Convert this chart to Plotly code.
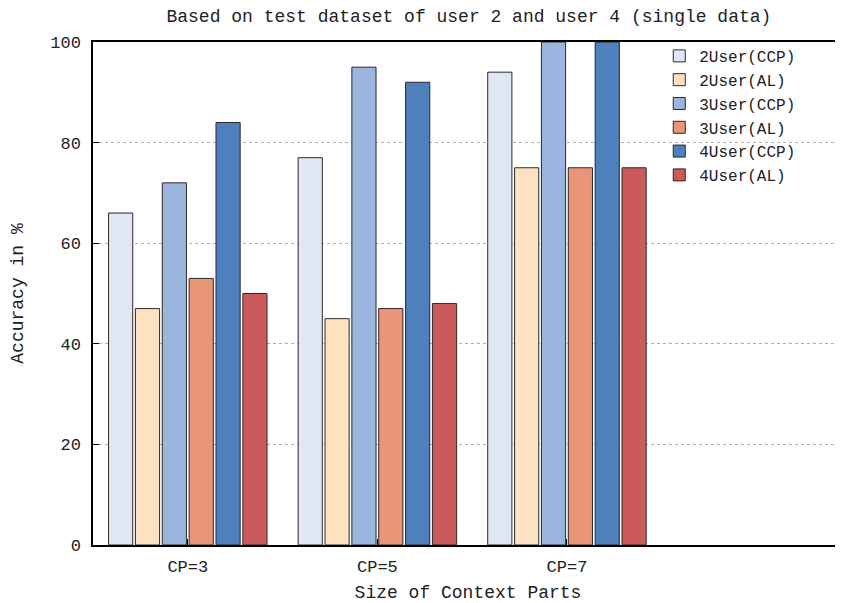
import plotly.graph_objects as go

categories = ["CP=3", "CP=5", "CP=7"]
series_names = ["2User(CCP)", "2User(AL)", "3User(CCP)", "3User(AL)", "4User(CCP)", "4User(AL)"]
user2_ccp = [66, 77, 94]
user2_al = [47, 45, 75]
user3_ccp = [72, 95, 100]
user3_al = [53, 47, 75]
user4_ccp = [84, 92, 100]
user4_al = [50, 48, 75]
y_ticks = [0, 20, 40, 60, 80, 100]

series_values = [user2_ccp, user2_al, user3_ccp, user3_al, user4_ccp, user4_al]
colors = ["#e0e6f4", "#fde2c1", "#9bb5de", "#e99577", "#4e80bd", "#cc5a5a"]

FONT = "Liberation Mono, Courier New, monospace"
x_pos = list(range(len(categories)))

fig = go.Figure()
for name, vals, col in zip(series_names, series_values, colors):
    fig.add_trace(go.Bar(
        x=x_pos, y=vals, name=name,
        marker=dict(color=col, line=dict(color="#2a2a2a", width=1)),
    ))

fig.update_layout(
    width=835, height=595,
    margin=dict(l=85, r=0, t=34, b=58, autoexpand=False),
    paper_bgcolor="white", plot_bgcolor="white",
    font=dict(family=FONT, size=17, color="#222"),
    barmode="group", bargap=0.15, bargroupgap=0.1,
    title=dict(text="Based on test dataset of user 2 and user 4 (single data)",
               x=0.552, xanchor="center", y=0.997, yanchor="top",
               font=dict(family=FONT, size=18, color="#222")),
    showlegend=True,
    legend=dict(x=0.755, xanchor="left", y=1.006, yanchor="top",
                bgcolor="rgba(255,255,255,0)", font=dict(family=FONT, size=16),
                tracegroupgap=0, itemwidth=30),
)
fig.update_xaxes(
    automargin=False,
    range=[-0.5, 3.456], tickmode="array", tickvals=x_pos, ticktext=categories,
    showline=True, linecolor="black", linewidth=1.5, mirror=True,
    ticks="inside", ticklen=6, tickcolor="black", showgrid=False, zeroline=False,
    ticklabelstandoff=5,
    title=dict(text="Size of Context Parts", font=dict(family=FONT, size=18), standoff=14),
    tickfont=dict(family=FONT, size=17),
)
fig.update_yaxes(
    automargin=False,
    range=[0, 100], tickmode="array", tickvals=y_ticks,
    showline=True, linecolor="black", linewidth=1.5, mirror=False,
    ticks="inside", ticklen=6, tickcolor="black", ticklabelstandoff=7,
    showgrid=True, gridcolor="#b0b0b0", griddash="dot", gridwidth=1, zeroline=False,
    title=dict(text="Accuracy in %", font=dict(family=FONT, size=18), standoff=23),
    tickfont=dict(family=FONT, size=17),
)

fig.write_html("out.html")
